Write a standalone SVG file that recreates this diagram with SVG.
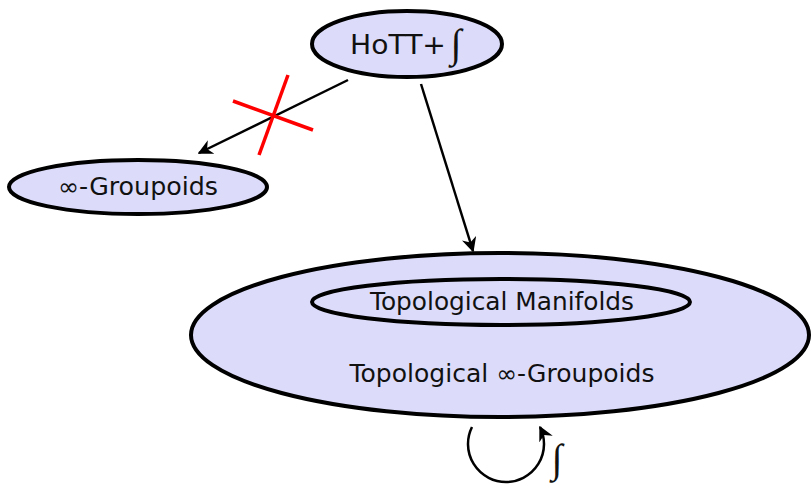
<svg xmlns="http://www.w3.org/2000/svg" width="812" height="485" viewBox="0 0 812 485">
<defs>
<style>
.n{fill:#dcdcfa;stroke:#000;stroke-width:4}
.t{font-family:"DejaVu Sans","Liberation Sans",sans-serif;font-size:24px;fill:#111;text-anchor:middle}
.i{font-family:"Liberation Serif","DejaVu Serif",serif;font-size:40px;fill:#111;text-anchor:middle}
.c{stroke:#000;stroke-width:2.5;fill:none}
.x{stroke:#f00;stroke-width:3.5}
</style>
<marker id="ah" viewBox="0 0 10 10" refX="9" refY="5" markerWidth="15" markerHeight="15" markerUnits="userSpaceOnUse" orient="auto">
<path d="M0,0 L10,5 L0,10 L3,5 Z" fill="#000"/>
</marker>
</defs>
<g id="big">
<ellipse class="n" cx="500" cy="335" rx="309" ry="82"/>
<text class="t" x="502" y="382" textLength="305" lengthAdjust="spacingAndGlyphs">Topological ∞-Groupoids</text>
</g>
<g id="manifolds">
<ellipse class="n" cx="501" cy="302" rx="189" ry="23"/>
<text class="t" x="502" y="310" textLength="264" lengthAdjust="spacingAndGlyphs">Topological Manifolds</text>
</g>
<g id="hott">
<ellipse class="n" cx="407" cy="44" rx="95" ry="33"/>
<text class="t" x="398" y="54" style="font-size:26px" textLength="96" lengthAdjust="spacingAndGlyphs">HoTT+</text>
<text class="i" x="456" y="57">∫</text>
</g>
<g id="groupoids">
<ellipse class="n" cx="138" cy="187" rx="129" ry="27"/>
<text class="t" x="138" y="195" textLength="160" lengthAdjust="spacingAndGlyphs">∞-Groupoids</text>
</g>
<g id="connectors">
<line class="c" x1="348" y1="80" x2="199" y2="153" marker-end="url(#ah)"/>
<line class="x" x1="233" y1="101" x2="313" y2="130"/>
<line class="x" x1="288" y1="75" x2="259" y2="155"/>
<line class="c" x1="421" y1="84" x2="473" y2="251" marker-end="url(#ah)"/>
<path class="c" stroke-width="3.5" d="M472,427 A38,38 0 1 0 540,427" marker-end="url(#ah)"/>
<text class="i" x="557" y="472">∫</text>
</g>
</svg>
